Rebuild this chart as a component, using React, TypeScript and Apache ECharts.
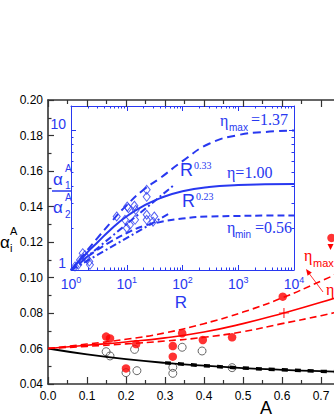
import { useEffect, useRef } from 'react';
import * as echarts from 'echarts';

// ---------- main plot data ----------
const A_FIT = [0, 0.1, 0.2, 0.3, 0.4, 0.5, 0.6, 0.7, 0.8];
const BLACK_FIT = [0.06, 0.0567, 0.054, 0.0519, 0.0503, 0.049, 0.048, 0.0472, 0.0466];
const A_DASH = [0.3, 0.4, 0.5, 0.6, 0.7, 0.8];
const BLACK_DASH = [0.0519, 0.0503, 0.049, 0.048, 0.0472, 0.0466];
const RED_FIT = [0.06, 0.0618, 0.0637, 0.066, 0.0693, 0.074, 0.0797, 0.086, 0.093];
const RED_UPPER = [0.06, 0.0625, 0.0652, 0.0688, 0.074, 0.0805, 0.0885, 0.098, 0.108];
const RED_LOWER = [0.06, 0.0612, 0.0626, 0.0642, 0.0663, 0.0695, 0.074, 0.0785, 0.0835];

const RED_A = [0.149, 0.159, 0.226, 0.344, 0.32, 0.32, 0.2, 0.397, 0.472, 0.602, 0.727];
const RED_V = [0.0667, 0.0657, 0.0625, 0.0686, 0.0614, 0.0554, 0.0488, 0.0648, 0.0663, 0.0892, 0.1223];
const OPEN_A = [0.149, 0.159, 0.222, 0.2, 0.228, 0.344, 0.32, 0.32, 0.395, 0.472];
const OPEN_V = [0.0582, 0.0558, 0.0595, 0.0464, 0.0475, 0.0607, 0.0494, 0.046, 0.0586, 0.0492];
const CROSS_A = [0.605];
const CROSS_V = [0.08];

// ---------- inset data (log-log) ----------
const R_CURVE = [1, 2, 3, 5, 10, 20, 40, 100, 300, 1000, 3000, 10000];
const ETA_1 = [1, 1.35, 1.58, 1.93, 2.43, 2.88, 3.28, 3.67, 3.94, 4.07, 4.12, 4.14];
const ETA_MAX = [1, 1.4, 1.7, 2.16, 2.92, 3.76, 4.57, 6.03, 8.04, 9.29, 9.77, 10.0];
const ETA_MIN = [1, 1.245, 1.4, 1.585, 1.84, 2.065, 2.21, 2.34, 2.42, 2.44, 2.455, 2.455];
const POW33_R = [1, 70];
const POW33_V = [1, 4.06];
const POW23_R = [1, 60];
const POW23_V = [1, 2.56];
const DIAMOND_R = [22.8, 22.8, 13.7, 10.7, 14.5, 9.3, 14.1, 10.0, 6.6, 22.8, 31.2, 22.8, 29.6, 11.4, 1.78, 1.45, 2.19, 1.35, 1.18, 1.91, 1.62, 2.13, 10.2];
const DIAMOND_V = [3.76, 3.35, 2.89, 2.78, 2.7, 2.29, 2.29, 2.0, 2.42, 2.49, 2.42, 2.29, 2.22, 2.11, 1.28, 1.18, 1.09, 1.09, 1.06, 1.21, 1.32, 1.15, 2.85];

const INSET_X_MAJOR = [1, 10, 100, 1000, 10000];
const INSET_Y_MAJOR = [1, 10];
const INSET_Y_MAX = 15;
const MINOR_MULT = [2, 3, 4, 5, 6, 7, 8, 9];

const BLUE = '#2838f0';
const RED = '#ff0000';
const DARK = '#333333';
const SANS = '"Liberation Sans", Arial, sans-serif';
const SERIF = '"Liberation Serif", "Times New Roman", serif';

const lg = (v: number) => Math.log10(v);
const zip = (xs: number[], ys: number[]) => xs.map((x, i) => [x, ys[i]]);
const zipLog = (xs: number[], ys: number[]) => xs.map((x, i) => [lg(x), lg(ys[i])]);

const X_MINOR: number[] = [];
INSET_X_MAJOR.slice(0, 4).forEach((d) => MINOR_MULT.forEach((m) => X_MINOR.push(lg(d * m))));
const Y_MINOR: number[] = [];
INSET_Y_MAJOR.forEach((d) => MINOR_MULT.forEach((m) => { if (d * m <= INSET_Y_MAX) Y_MINOR.push(lg(d * m)); }));

function mainX(position: 'bottom' | 'top', labels: boolean) {
  return {
    gridIndex: 0, type: 'value', position, min: 0, max: 0.8, interval: 0.1,
    axisLine: { onZero: false, lineStyle: { color: DARK, width: 1.6 } },
    axisTick: { inside: true, length: 7, lineStyle: { color: DARK, width: 1.2 } },
    minorTick: { show: true, splitNumber: 2, length: 4, lineStyle: { color: DARK, width: 1.2 } },
    axisLabel: { show: labels, formatter: (v: number) => v.toFixed(1), color: '#000', fontSize: 12, fontFamily: SANS, margin: 6 },
    splitLine: { show: false }, minorSplitLine: { show: false },
  };
}

function insetX(position: 'bottom' | 'top', major: boolean, labels: boolean) {
  return {
    gridIndex: 1, type: 'value', position, min: 0, max: 4,
    axisLine: { show: major, onZero: false, lineStyle: { color: BLUE, width: 1 } },
    axisTick: { inside: true, length: major ? 5 : 2.5, customValues: major ? INSET_X_MAJOR.map(lg) : X_MINOR, lineStyle: { color: BLUE, width: 1 } },
    axisLabel: {
      show: labels, customValues: INSET_X_MAJOR.map(lg), margin: 5,
      formatter: (v: number) => `{b|10}{s|${Math.round(v)}}`,
      rich: {
        b: { fontSize: 14, fontFamily: SANS, color: BLUE, lineHeight: 16, verticalAlign: 'bottom' },
        s: { fontSize: 9, fontFamily: SANS, color: BLUE, lineHeight: 10, verticalAlign: 'top' },
      },
    },
    splitLine: { show: false },
  };
}

function insetY(position: 'left' | 'right', major: boolean, labels: boolean) {
  return {
    gridIndex: 1, type: 'value', position, min: 0, max: lg(INSET_Y_MAX),
    axisLine: { show: major, onZero: false, lineStyle: { color: BLUE, width: 1 } },
    axisTick: { inside: true, length: major ? 5 : 2.5, customValues: major ? INSET_Y_MAJOR.map(lg) : Y_MINOR, lineStyle: { color: BLUE, width: 1 } },
    axisLabel: {
      show: labels, customValues: INSET_Y_MAJOR.map(lg), margin: 5,
      formatter: (v: number) => String(Math.round(Math.pow(10, v))),
      color: BLUE, fontSize: 14, fontFamily: SANS, verticalAlign: 'bottom', lineHeight: 14,
    },
    splitLine: { show: false },
  };
}

function txt(x: number, y: number, text: string, size: number, color: string, family = SANS, align = 'left') {
  return {
    type: 'text', x, y, z: 100,
    style: { text, fontSize: size, fontFamily: family, fill: color, textAlign: align, textVerticalAlign: 'middle' },
  };
}

export default function App() {
  const ref = useRef<HTMLDivElement>(null);
  useEffect(() => {
    if (!ref.current) return;
    const chart = echarts.init(ref.current, undefined, { renderer: 'svg' });
    const option: any = {
      animation: false,
      backgroundColor: '#fff',
      grid: [
        { left: 48, top: 100, width: 312, height: 284, outerBoundsMode: 'none', containLabel: false },
        { left: 71, top: 106, width: 223, height: 164, show: true, backgroundColor: '#fff', borderWidth: 0, outerBoundsMode: 'none', containLabel: false },
      ],
      xAxis: [
        mainX('bottom', true), mainX('top', false),
        insetX('bottom', true, true), insetX('top', true, false),
        insetX('bottom', false, false), insetX('top', false, false),
      ],
      yAxis: [
        {
          gridIndex: 0, type: 'value', position: 'left', min: 0.04, max: 0.2, interval: 0.02,
          axisLine: { onZero: false, lineStyle: { color: DARK, width: 1.6 } },
          axisTick: { inside: true, length: 6, lineStyle: { color: DARK, width: 1.2 } },
          minorTick: { show: true, splitNumber: 2, length: 3.5, lineStyle: { color: DARK, width: 1.2 } },
          axisLabel: { formatter: (v: number) => v.toFixed(2), color: '#000', fontSize: 12, fontFamily: SANS, margin: 5 },
          splitLine: { show: false }, minorSplitLine: { show: false },
        },
        insetY('left', true, true), insetY('right', true, false),
        insetY('left', false, false), insetY('right', false, false),
      ],
      series: [
        { type: 'line', xAxisIndex: 0, yAxisIndex: 0, data: zip(A_FIT, BLACK_FIT), smooth: true, symbol: 'none', lineStyle: { color: '#000', width: 1.8 } },
        { type: 'line', xAxisIndex: 0, yAxisIndex: 0, data: zip(A_DASH, BLACK_DASH), smooth: true, symbol: 'none', lineStyle: { color: '#000', width: 3.5, type: [6, 7] } },
        { type: 'line', xAxisIndex: 0, yAxisIndex: 0, data: zip(A_FIT, RED_FIT), smooth: true, symbol: 'none', lineStyle: { color: RED, width: 1.6 } },
        { type: 'line', xAxisIndex: 0, yAxisIndex: 0, data: zip(A_FIT, RED_UPPER), smooth: true, symbol: 'none', lineStyle: { color: RED, width: 1.6, type: [7, 4] } },
        { type: 'line', xAxisIndex: 0, yAxisIndex: 0, data: zip(A_FIT, RED_LOWER), smooth: true, symbol: 'none', lineStyle: { color: RED, width: 1.6, type: [7, 4] } },
        { type: 'scatter', xAxisIndex: 0, yAxisIndex: 0, data: zip(OPEN_A, OPEN_V), symbol: 'circle', symbolSize: 8, itemStyle: { color: 'rgba(255,255,255,0)', borderColor: '#444', borderWidth: 1 } },
        { type: 'scatter', xAxisIndex: 0, yAxisIndex: 0, data: zip(RED_A, RED_V), symbol: 'circle', symbolSize: 8.5, itemStyle: { color: RED } },
        { type: 'scatter', xAxisIndex: 0, yAxisIndex: 0, data: zip(CROSS_A, CROSS_V), symbol: 'path://M-0.12,-1H0.12V-0.12H1V0.12H0.12V1H-0.12V0.12H-1V-0.12H-0.12Z', symbolSize: 10, itemStyle: { color: RED } },
        // inset
        { type: 'line', xAxisIndex: 2, yAxisIndex: 1, data: zipLog(R_CURVE, ETA_MAX), smooth: true, symbol: 'none', lineStyle: { color: BLUE, width: 2, type: [8, 5] } },
        { type: 'line', xAxisIndex: 2, yAxisIndex: 1, data: zipLog(R_CURVE, ETA_MIN), smooth: true, symbol: 'none', lineStyle: { color: BLUE, width: 2, type: [7, 4] } },
        { type: 'line', xAxisIndex: 2, yAxisIndex: 1, data: zipLog(R_CURVE, ETA_1), smooth: true, symbol: 'none', lineStyle: { color: BLUE, width: 2 } },
        { type: 'line', xAxisIndex: 2, yAxisIndex: 1, data: zipLog(POW33_R, POW33_V), symbol: 'none', lineStyle: { color: BLUE, width: 2, type: [7, 3, 2, 3] } },
        { type: 'line', xAxisIndex: 2, yAxisIndex: 1, data: zipLog(POW23_R, POW23_V), symbol: 'none', lineStyle: { color: BLUE, width: 2, type: [7, 3, 2, 3] } },
        { type: 'scatter', xAxisIndex: 2, yAxisIndex: 1, data: zipLog(DIAMOND_R, DIAMOND_V), symbol: 'diamond', symbolSize: [7, 9], itemStyle: { color: 'rgba(255,255,255,0)', borderColor: BLUE, borderWidth: 1 } },
      ],
      graphic: [
        txt(260, 408, 'A', 18, '#000'),
        txt(0, 242, 'α', 17, '#000'),
        txt(10, 231, 'A', 11, '#000'),
        txt(10, 248, 'i', 11, '#000'),
        // inset y-label
        txt(53, 179, 'α', 17, BLUE),
        txt(65, 168, 'A', 10, BLUE),
        txt(65, 185, '1', 10, BLUE),
        { type: 'line', z: 100, shape: { x1: 52, y1: 191, x2: 71, y2: 191 }, style: { stroke: BLUE, lineWidth: 1.5 } },
        txt(53, 207, 'α', 17, BLUE),
        txt(65, 197, 'A', 10, BLUE),
        txt(65, 214, '2', 10, BLUE),
        txt(181, 302, 'R', 17, BLUE, SANS, 'center'),
        // inset annotations
        txt(220, 120, 'η', 16, BLUE, SERIF),
        txt(229, 127, 'max', 10, BLUE),
        txt(251, 119, '=1.37', 16, BLUE, SERIF),
        txt(227, 172, 'η=1.00', 16, BLUE, SERIF),
        txt(180, 170, 'R', 18, BLUE),
        txt(194, 165, '0.33', 10, BLUE, SERIF),
        txt(182, 201, 'R', 18, BLUE),
        txt(196, 196, '0.23', 10, BLUE, SERIF),
        txt(227, 227, 'η', 16, BLUE, SERIF),
        txt(235, 234, 'min', 10, BLUE),
        txt(255, 227, '=0.56', 16, BLUE, SERIF),
        // red annotations
        txt(304, 255, 'η', 16, RED, SERIF),
        txt(313, 263, 'max', 11, RED),
        txt(326, 289, 'η', 16, RED, SERIF),
        { type: 'line', z: 100, shape: { x1: 323, y1: 292, x2: 308, y2: 272 }, style: { stroke: RED, lineWidth: 0.8 } },
        { type: 'polygon', z: 100, shape: { points: [[306, 269], [311.8, 272.6], [307.6, 275.8]] }, style: { fill: RED } },
        { type: 'polygon', z: 100, shape: { points: [[327.5, 244], [333.5, 244], [330.5, 250]] }, style: { fill: RED } },
      ],
    };
    chart.setOption(option);
    return () => chart.dispose();
  }, []);
  return <div ref={ref} style={{ position: 'absolute', left: 0, top: 0, width: 334, height: 419 }} />;
}
